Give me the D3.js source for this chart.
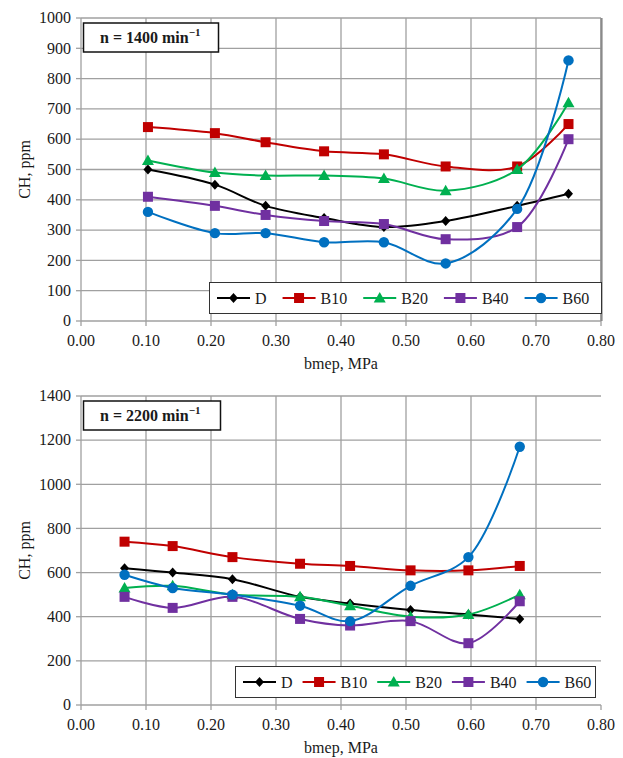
<!DOCTYPE html>
<html>
<head>
<meta charset="utf-8">
<script src="https://d3js.org/d3.v7.min.js"></script>
<style>
  body { margin: 0; background: #fff; }
  text { font-family: "Liberation Serif", "Times New Roman", serif; fill: #1a1a1a; }
</style>
</head>
<body>
<div id="chart"></div>
<script>
// series names and colours
const names = ["D", "B10", "B20", "B40", "B60"];
const colors = ["#000000", "#c00000", "#00b050", "#7030a0", "#0070c0"];
const shapes = ["diamond", "square", "triangle", "square", "circle"];
const xTicks = [0, 0.1, 0.2, 0.3, 0.4, 0.5, 0.6, 0.7, 0.8];

// n = 1400 min-1
const bmep1400 = [0.103, 0.206, 0.284, 0.374, 0.466, 0.561, 0.671, 0.750];
const d1400   = [500, 450, 380, 340, 310, 330, 380, 420];
const b10_1400 = [640, 620, 590, 560, 550, 510, 510, 650];
const b20_1400 = [530, 490, 480, 480, 470, 430, 500, 720];
const b40_1400 = [410, 380, 350, 330, 320, 270, 310, 600];
const b60_1400 = [360, 290, 290, 260, 260, 190, 370, 860];
const yTicks1400 = [0, 100, 200, 300, 400, 500, 600, 700, 800, 900, 1000];

// n = 2200 min-1
const bmep2200 = [0.067, 0.141, 0.233, 0.337, 0.414, 0.507, 0.596, 0.675];
const d2200   = [620, 600, 570, 490, 460, 430, 410, 390];
const b10_2200 = [740, 720, 670, 640, 630, 610, 610, 630];
const b20_2200 = [530, 540, 500, 490, 450, 400, 410, 500];
const b40_2200 = [490, 440, 490, 390, 360, 380, 280, 470];
const b60_2200 = [590, 530, 500, 450, 380, 540, 670, 1170];
const yTicks2200 = [0, 200, 400, 600, 800, 1000, 1200, 1400];

const svg = d3.select("#chart").append("svg")
  .attr("width", 623).attr("height", 758);

function marker(g, shape, color) {
  if (shape === "square") {
    g.append("rect").attr("x", -5).attr("y", -5).attr("width", 10).attr("height", 10).attr("fill", color);
  } else if (shape === "circle") {
    g.append("circle").attr("r", 5.2).attr("fill", color);
  } else if (shape === "triangle") {
    g.append("path").attr("d", "M0,-6L6,4.5L-6,4.5Z").attr("fill", color);
  } else {
    g.append("path").attr("d", "M0,-5L4.5,0L0,5L-4.5,0Z").attr("fill", color);
  }
}

function panel(o) {
  const x = d3.scaleLinear().domain([0, 0.8]).range([81, 601]);
  const y = d3.scaleLinear().domain([0, o.yMax]).range([o.bottom, o.top]);
  const g = svg.append("g");

  // grid
  g.selectAll(".hg").data(o.yTicks).enter().append("line")
    .attr("x1", x(0)).attr("x2", x(0.8))
    .attr("y1", d => y(d)).attr("y2", d => y(d))
    .attr("stroke", "#a0a0a0").attr("stroke-width", 1.3);
  g.selectAll(".vg").data(o.vGrid).enter().append("line")
    .attr("x1", d => x(d)).attr("x2", d => x(d))
    .attr("y1", y(o.yMax)).attr("y2", y(0))
    .attr("stroke", "#a0a0a0").attr("stroke-width", 1.3);
  if (o.rightBorder) {
    g.append("line").attr("x1", x(0.8) + 0.5).attr("x2", x(0.8) + 0.5)
      .attr("y1", y(o.yMax)).attr("y2", y(0))
      .attr("stroke", "#8a8a8a").attr("stroke-width", 2.2);
  }

  // ticks
  g.selectAll(".yt").data(o.yTicks).enter().append("line")
    .attr("x1", x(0) - 5).attr("x2", x(0))
    .attr("y1", d => y(d)).attr("y2", d => y(d))
    .attr("stroke", "#a0a0a0").attr("stroke-width", 1.3);
  g.selectAll(".xt").data(xTicks).enter().append("line")
    .attr("x1", d => x(d)).attr("x2", d => x(d))
    .attr("y1", y(0)).attr("y2", y(0) + 5)
    .attr("stroke", "#a0a0a0").attr("stroke-width", 1.3);

  g.selectAll(".yl").data(o.yTicks).enter().append("text")
    .attr("x", 71).attr("y", d => y(d)).attr("dy", "0.33em")
    .attr("text-anchor", "end").attr("font-size", 16)
    .text(d => d);
  g.selectAll(".xl").data(xTicks).enter().append("text")
    .attr("x", d => x(d)).attr("y", y(0) + 25)
    .attr("text-anchor", "middle").attr("font-size", 16)
    .text(d => d.toFixed(2));

  g.append("text").attr("x", 341).attr("y", y(0) + 48)
    .attr("text-anchor", "middle").attr("font-size", 16).text("bmep, MPa");
  g.append("text")
    .attr("transform", `translate(30,${(y(0) + y(o.yMax)) / 2}) rotate(-90)`)
    .attr("text-anchor", "middle").attr("font-size", 16).text("CH, ppm");

  // series
  const line = d3.line().x((d, i) => x(o.xs[i])).y(d => y(d))
    .curve(d3.curveCatmullRom.alpha(0.5));
  o.series.forEach((vals, k) => {
    g.append("path").attr("d", line(vals)).attr("fill", "none")
      .attr("stroke", colors[k]).attr("stroke-width", 2);
    vals.forEach((v, i) => {
      const m = g.append("g").attr("transform", `translate(${x(o.xs[i])},${y(v)})`);
      marker(m, shapes[k], colors[k]);
    });
  });

  // title box
  g.append("rect").attr("x", 83.5).attr("y", o.top + 5).attr("width", o.titleW).attr("height", 29)
    .attr("fill", "#fff").attr("stroke", "#111").attr("stroke-width", 1.5);
  const t = g.append("text").attr("x", 100).attr("y", o.top + 25)
    .attr("font-size", 16).attr("font-weight", "bold");
  t.append("tspan").text(o.title);
  t.append("tspan").attr("dy", -7).attr("font-size", 11).text("\u22121");

  // legend
  g.append("rect").attr("x", o.legX + 0.5).attr("y", o.legY + 0.5)
    .attr("width", o.legW).attr("height", 31)
    .attr("fill", "#fff").attr("stroke", "#333").attr("stroke-width", 1);
  let lx = o.legX + 8;
  const ly = o.legY + 16;
  names.forEach((n, k) => {
    g.append("line").attr("x1", lx).attr("x2", lx + 33).attr("y1", ly).attr("y2", ly)
      .attr("stroke", colors[k]).attr("stroke-width", 2);
    const m = g.append("g").attr("transform", `translate(${lx + 16.5},${ly})`);
    marker(m, shapes[k], colors[k]);
    const tx = g.append("text").attr("x", lx + 38).attr("y", ly).attr("dy", "0.35em")
      .attr("font-size", 16).text(n);
    lx += 38 + tx.node().getComputedTextLength() + o.legGap;
  });
}

panel({
  top: 18, bottom: 321, yMax: 1000, yTicks: yTicks1400,
  vGrid: xTicks, rightBorder: true,
  xs: bmep1400, series: [d1400, b10_1400, b20_1400, b40_1400, b60_1400],
  title: "n = 1400 min", titleW: 135,
  legX: 209, legY: 282, legW: 392, legGap: 16
});

panel({
  top: 396, bottom: 705, yMax: 1400, yTicks: yTicks2200,
  vGrid: xTicks.slice(0, 8), rightBorder: false,
  xs: bmep2200, series: [d2200, b10_2200, b20_2200, b40_2200, b60_2200],
  title: "n = 2200 min", titleW: 137,
  legX: 235, legY: 666, legW: 360, legGap: 10
});
</script>
</body>
</html>
